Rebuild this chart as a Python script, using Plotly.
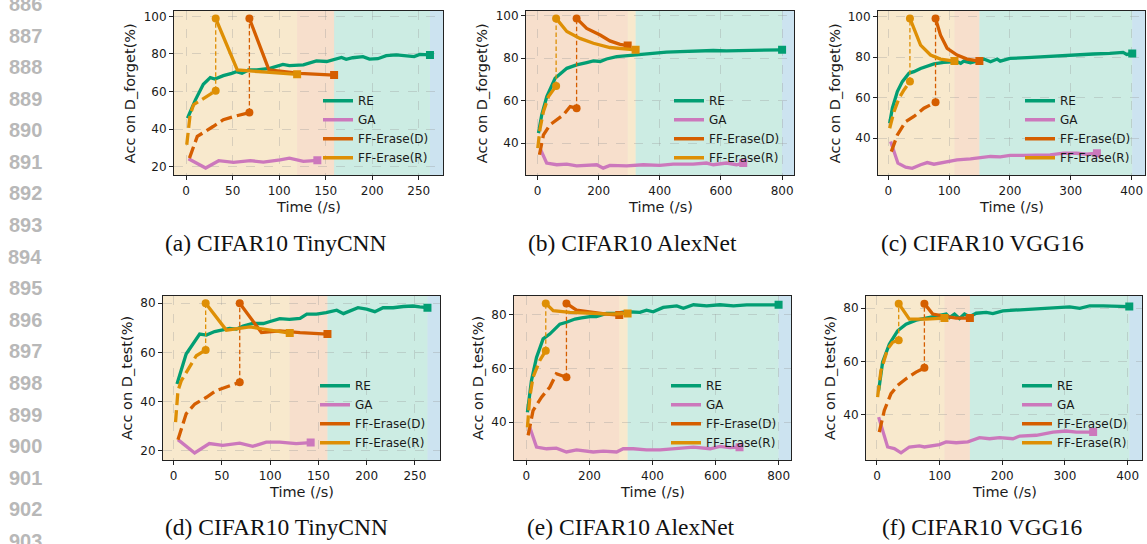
import plotly.graph_objects as go

W, H = 1147, 544
C_RE, C_GA, C_D, C_R, C_X = "#029e73", "#cc78bc", "#d55e00", "#de8f05", "#0173b2"
FONT = "DejaVu Sans"

# ---------------- data: (a) CIFAR10 TinyCNN, D_forget ----------------
a_re_t = [1.5, 10, 18.5, 26, 31, 40, 49, 54, 60, 67, 76, 90, 104, 111, 126, 133, 140, 151, 158, 167, 172, 179, 190, 197, 206, 215, 226, 236, 245, 251, 262]
a_re_acc = [45.8, 55.6, 63.9, 67.4, 66.7, 68.5, 69.7, 70.6, 69.7, 71.5, 71.5, 72.4, 74.5, 73.8, 74.2, 75.4, 76.3, 76.0, 76.8, 78.2, 77.2, 78.0, 78.6, 77.3, 77.5, 79.1, 79.5, 78.9, 78.6, 79.8, 79.5]
a_ga_t = [2.5, 21, 35, 51, 69, 83, 101, 111, 126, 141]
a_ga_acc = [24.2, 19.3, 23.2, 22.3, 23.2, 22.5, 23.7, 24.6, 22.8, 23.4]
a_dpre_t = [3.6, 12, 29, 40, 51, 68]
a_dpre_acc = [24.6, 36.1, 41.4, 45.0, 46.7, 48.8]
a_dpost_t = [68, 89, 122, 159]
a_dpost_acc = [98.9, 71.5, 69.7, 68.8]
a_rpre_t = [0.7, 4.3, 8, 18.6, 31.8]
a_rpre_acc = [31.7, 47.6, 53.0, 56.5, 60.4]
a_rpost_t = [31.8, 55, 86, 119.3]
a_rpost_acc = [98.9, 71.5, 70.3, 69.2]

# ---------------- data: (b) CIFAR10 AlexNet, D_forget ----------------
b_re_t = [3.3, 14, 30.5, 57.7, 96, 128, 161, 183, 205, 226, 259, 292, 335, 379, 422, 466, 509, 575, 618, 673, 727, 800]
b_re_acc = [44.7, 53.3, 61.9, 70.5, 75.2, 76.8, 77.9, 78.7, 78.4, 79.6, 80.7, 81.2, 81.5, 82.3, 82.8, 83.1, 83.4, 83.6, 83.4, 83.6, 83.7, 83.9]
b_ga_t = [10, 30, 63, 96, 128, 172, 194, 215, 237, 292, 346, 400, 444, 509, 553, 575, 618, 651, 673]
b_ga_acc = [37.0, 30.6, 29.8, 30.1, 29.3, 29.8, 29.8, 28.2, 29.5, 29.3, 29.8, 29.5, 30.1, 30.1, 30.6, 29.8, 30.6, 29.8, 30.6]
b_dpre_t = [6.5, 19.6, 41, 63, 85, 107, 128]
b_dpre_acc = [34.5, 43.9, 48.6, 51.0, 53.3, 57.2, 56.4]
b_dpost_t = [128, 161, 205, 237, 270, 295]
b_dpost_acc = [98.7, 94.0, 90.9, 88.1, 86.5, 85.9]
b_rpre_t = [1, 8.7, 19.6, 36, 61]
b_rpre_acc = [37.6, 47.0, 54.9, 61.9, 66.9]
b_rpost_t = [61, 96, 139, 183, 237, 292, 321]
b_rpost_acc = [98.7, 92.5, 89.3, 87.0, 85.0, 84.3, 83.9]

# ---------------- data: (c) CIFAR10 VGG16, D_forget ----------------
c_re_t = [2.2, 6.6, 14.8, 23, 34, 42, 53, 64, 75, 91, 113, 119, 124, 135, 146, 157, 168, 179, 184, 200, 228, 255, 282, 310, 337, 364, 386, 392, 401]
c_re_acc = [47.4, 54.8, 63.0, 67.9, 72.0, 72.8, 74.4, 75.7, 76.6, 77.4, 77.7, 76.9, 78.0, 77.2, 78.0, 79.0, 77.7, 79.0, 78.0, 79.3, 79.7, 80.2, 80.7, 81.0, 81.5, 81.8, 82.3, 81.3, 81.8]
c_ga_t = [3.8, 15.8, 28.4, 39.3, 53, 64, 75, 91, 113, 135, 151, 168, 184, 200, 222, 244, 266, 288, 310, 326, 343]
c_ga_acc = [38.4, 27.7, 25.7, 25.2, 26.9, 28.0, 27.2, 28.2, 29.3, 29.8, 30.2, 31.0, 30.8, 31.5, 31.5, 31.8, 31.8, 32.6, 32.6, 32.1, 32.6]
c_dpre_t = [4.9, 14.8, 28.4, 42, 58.5, 77.6]
c_dpre_acc = [33.4, 41.6, 48.2, 50.7, 54.8, 57.7]
c_dpost_t = [77.6, 85.8, 96.7, 113, 129.5, 149.7]
c_dpost_acc = [99.0, 90.8, 84.3, 81.0, 79.0, 78.0]
c_rpre_t = [2.2, 9.3, 17.5, 25.7, 35.5]
c_rpre_acc = [44.9, 53.1, 59.7, 63.8, 67.9]
c_rpost_t = [35.5, 53, 69.4, 85.8, 108.7]
c_rpost_acc = [99.0, 85.9, 81.0, 79.0, 78.0]

# ---------------- data: (d) CIFAR10 TinyCNN, D_test ----------------
d_re_t = [3.5, 13, 27, 34, 42.5, 51, 58, 65, 72, 82, 93, 100, 110, 120, 131, 138, 148, 158, 169, 176, 183, 191, 200, 208.5, 217, 227.5, 238, 248, 255, 263]
d_re_acc = [47.2, 59.4, 67.5, 67.1, 68.5, 69.1, 69.8, 69.5, 70.8, 71.8, 71.8, 72.6, 73.8, 73.5, 73.9, 75.6, 75.6, 76.2, 77.2, 75.8, 76.9, 78.2, 77.6, 76.6, 78.2, 78.2, 78.7, 78.9, 78.5, 78.2]
d_ga_t = [4.5, 21.8, 37, 51, 68.5, 82, 96, 110, 127, 142]
d_ga_acc = [24.6, 19.2, 23.0, 22.3, 23.2, 21.9, 23.6, 23.6, 23.0, 23.4]
d_dpre_t = [4.5, 13, 22, 34, 44, 58, 68.5]
d_dpre_acc = [24.6, 35.1, 39.1, 41.8, 44.5, 46.6, 47.9]
d_dpost_t = [68.5, 91, 110, 131, 159.4]
d_dpost_acc = [80.0, 68.1, 68.8, 68.1, 67.5]
d_rpre_t = [2, 4.5, 8, 23.5, 33.2]
d_rpre_acc = [31.7, 44.5, 48.6, 58.7, 61.0]
d_rpost_t = [33.2, 54.6, 79, 96, 120.3]
d_rpost_acc = [80.0, 69.1, 70.4, 69.5, 67.9]

# ---------------- data: (e) CIFAR10 AlexNet, D_test ----------------
e_re_t = [3.2, 16, 32, 53, 74, 106, 127, 154, 175, 201, 222, 254, 286, 318, 360, 381, 402, 434, 477, 498, 530, 572, 614, 657, 699, 741, 800]
e_re_acc = [43.7, 55.5, 64.1, 71.0, 72.8, 76.5, 77.2, 78.4, 78.8, 79.3, 79.3, 80.5, 80.6, 81.1, 80.9, 81.7, 81.1, 82.7, 83.3, 82.4, 83.7, 83.3, 83.7, 83.3, 83.7, 83.7, 83.7]
e_ga_t = [10.6, 32, 64, 95, 127, 159, 212, 244, 286, 307, 339, 381, 424, 477, 530, 583, 614, 646, 676]
e_ga_acc = [38.1, 30.7, 30.1, 30.3, 28.9, 29.7, 28.9, 29.2, 28.9, 30.1, 30.1, 29.7, 29.7, 30.1, 30.7, 30.1, 31.0, 30.5, 30.7]
e_dpre_t = [5.3, 21, 48, 74, 95, 127]
e_dpre_acc = [35.1, 44.3, 49.3, 53.0, 58.0, 56.7]
e_dpost_t = [127, 159, 212, 254, 294.5]
e_dpost_acc = [84.2, 81.7, 80.9, 80.2, 79.9]
e_rpre_t = [3.2, 10.6, 21, 42, 61.4]
e_rpre_acc = [38.1, 49.3, 56.7, 62.9, 66.6]
e_rpost_t = [61.4, 85, 138, 212, 265, 321]
e_rpost_acc = [84.2, 81.5, 80.9, 80.5, 80.2, 80.5]

# ---------------- data: (f) CIFAR10 VGG16, D_test ----------------
f_re_t = [2.7, 9, 19.7, 33, 46.4, 62.4, 78.4, 94.4, 110.4, 115.7, 123.7, 131.7, 139.7, 147.7, 158.4, 174.4, 185, 201, 222.4, 243.7, 265, 286.4, 307.7, 323.7, 339.7, 361, 382.4, 402.7]
f_re_acc = [49.1, 59.7, 66.5, 71.5, 74.0, 75.5, 76.3, 77.1, 77.8, 76.5, 77.8, 76.1, 77.8, 76.8, 78.1, 78.4, 78.0, 79.0, 79.3, 79.3, 79.6, 80.2, 80.5, 79.9, 80.9, 80.9, 80.6, 80.6]
f_ga_t = [2.7, 9, 17, 27.7, 38.4, 51.7, 67.7, 75.7, 89, 99.7, 110.4, 126.4, 145, 163.7, 179.7, 195.7, 217, 228, 254.4, 281, 302, 318.4, 345]
f_ga_acc = [39.1, 34.1, 27.9, 27.3, 25.7, 27.9, 28.3, 27.9, 28.5, 28.8, 29.8, 29.5, 29.8, 31.4, 31.0, 31.4, 31.0, 32.0, 32.3, 33.5, 33.9, 33.5, 33.5]
f_dpre_t = [3.7, 11.7, 22.4, 33, 46.4, 62.4, 75.7]
f_dpre_acc = [33.5, 41.6, 47.9, 51.0, 53.5, 56.0, 57.6]
f_dpost_t = [75.7, 89, 105, 126.4, 148.3]
f_dpost_acc = [81.7, 77.8, 77.1, 76.3, 76.3]
f_rpre_t = [1, 6.4, 17, 25, 34.7]
f_rpre_acc = [46.6, 56.6, 64.7, 67.2, 68.0]
f_rpost_t = [34.7, 51.7, 78.4, 107.7]
f_rpost_acc = [81.7, 75.9, 75.9, 76.3]

# ---------------- labels / ticks ----------------
series_names = ["RE", "GA", "FF-Erase(D)", "FF-Erase(R)"]
captions = ["(a) CIFAR10 TinyCNN", "(b) CIFAR10 AlexNet", "(c) CIFAR10 VGG16",
            "(d) CIFAR10 TinyCNN", "(e) CIFAR10 AlexNet", "(f) CIFAR10 VGG16"]
ylabel_forget = "Acc on D_forget(%)"
ylabel_test = "Acc on D_test(%)"
xlabel = "Time (/s)"
xticks_tiny = [0, 50, 100, 150, 200, 250]
xticks_alex = [0, 200, 400, 600, 800]
xticks_vgg = [0, 100, 200, 300, 400]
yticks_a = [20, 40, 60, 80, 100]
yticks_bc = [40, 60, 80, 100]
yticks_d = [20, 40, 60, 80]
yticks_ef = [40, 60, 80]
line_numbers = ["886", "887", "888", "889", "890", "891", "892", "893", "894",
                "895", "896", "897", "898", "899", "900", "901", "902", "903"]

panels = [
    dict(re=(a_re_t, a_re_acc), ga=(a_ga_t, a_ga_acc), dpre=(a_dpre_t, a_dpre_acc), dpost=(a_dpost_t, a_dpost_acc),
         rpre=(a_rpre_t, a_rpre_acc), rpost=(a_rpost_t, a_rpost_acc), box=(174, 443, 9, 174),
         xr=[-13, 276], yr=[15.4, 102.9], xt=xticks_tiny, yt=yticks_a, ylab=ylabel_forget, ystand=44),
    dict(re=(b_re_t, b_re_acc), ga=(b_ga_t, b_ga_acc), dpre=(b_dpre_t, b_dpre_acc), dpost=(b_dpost_t, b_dpost_acc),
         rpre=(b_rpre_t, b_rpre_acc), rpost=(b_rpost_t, b_rpost_acc), box=(526, 794, 9, 174),
         xr=[-37.5, 839], yr=[24.8, 102.2], xt=xticks_alex, yt=yticks_bc, ylab=ylabel_forget, ystand=44),
    dict(re=(c_re_t, c_re_acc), ga=(c_ga_t, c_ga_acc), dpre=(c_dpre_t, c_dpre_acc), dpost=(c_dpost_t, c_dpost_acc),
         rpre=(c_rpre_t, c_rpre_acc), rpost=(c_rpost_t, c_rpost_acc), box=(878, 1145, 9, 174),
         xr=[-17, 422], yr=[21.7, 102.7], xt=xticks_vgg, yt=yticks_bc, ylab=ylabel_forget, ystand=43),
    dict(re=(d_re_t, d_re_acc), ga=(d_ga_t, d_ga_acc), dpre=(d_dpre_t, d_dpre_acc), dpost=(d_dpost_t, d_dpost_acc),
         rpre=(d_rpre_t, d_rpre_acc), rpost=(d_rpost_t, d_rpost_acc), box=(163, 440, 295, 460),
         xr=[-11, 276], yr=[16.2, 83], xt=xticks_tiny, yt=yticks_d, ylab=ylabel_test, ystand=36),
    dict(re=(e_re_t, e_re_acc), ga=(e_ga_t, e_ga_acc), dpre=(e_dpre_t, e_dpre_acc), dpost=(e_dpost_t, e_dpost_acc),
         rpre=(e_rpre_t, e_rpre_acc), rpost=(e_rpost_t, e_rpost_acc), box=(514, 791, 295, 460),
         xr=[-39.4, 839.4], yr=[25.8, 87], xt=xticks_alex, yt=yticks_ef, ylab=ylabel_test, ystand=36),
    dict(re=(f_re_t, f_re_acc), ga=(f_ga_t, f_ga_acc), dpre=(f_dpre_t, f_dpre_acc), dpost=(f_dpost_t, f_dpost_acc),
         rpre=(f_rpre_t, f_rpre_acc), rpost=(f_rpost_t, f_rpost_acc), box=(866, 1142, 295, 460),
         xr=[-17.5, 423], yr=[22.9, 84.6], xt=xticks_vgg, yt=yticks_ef, ylab=ylabel_test, ystand=36),
]
caption_pos = [(276, 242), (632, 242), (982, 242), (276, 527), (631, 527), (982, 527)]

fig = go.Figure()
layout = dict(width=W, height=H, margin=dict(l=0, r=0, t=0, b=0),
              paper_bgcolor="white", plot_bgcolor="white", showlegend=True,
              font=dict(family=FONT, size=12, color="#1a1a1a"))
shapes, annots = [], []

LW = 3.3
DASH = "12px,5px"
THIN = "4.5px,2.5px"


def line(xa, ya, x, y, color, width, dash="solid"):
    fig.add_trace(go.Scatter(x=x, y=y, mode="lines", xaxis=xa, yaxis=ya, showlegend=False, hoverinfo="skip",
                             line=dict(color=color, width=width, dash=dash)))


def mark(xa, ya, x, y, color, symbol, size=8):
    fig.add_trace(go.Scatter(x=x, y=y, mode="markers", xaxis=xa, yaxis=ya, showlegend=False, hoverinfo="skip",
                             marker=dict(color=color, symbol=symbol, size=size, line=dict(width=0))))


for i, p in enumerate(panels):
    s = "" if i == 0 else str(i + 1)
    xa, ya = "x" + s, "y" + s
    x0, x1, y0, y1 = p["box"]
    common = dict(showline=True, mirror=True, linecolor="#222", linewidth=1,
                  ticks="outside", ticklen=4, tickwidth=1, tickcolor="#222",
                  showgrid=True, gridcolor="rgba(150,150,150,0.4)", griddash="dash", gridwidth=0.8,
                  zeroline=False, tickfont=dict(size=12, family=FONT, color="#1a1a1a"))
    layout["xaxis" + s] = dict(domain=[x0 / W, x1 / W], anchor=ya, range=p["xr"], tickvals=p["xt"], **common)
    layout["yaxis" + s] = dict(domain=[1 - y1 / H, 1 - y0 / H], anchor=xa, range=p["yr"], tickvals=p["yt"], **common)

    # background spans, boundaries = end times of each method
    ends = sorted([(p["rpost"][0][-1], C_R), (p["dpost"][0][-1], C_D)])
    ends.append((p["re"][0][-1], C_RE))
    start = p["xr"][0]
    for e, col in ends:
        shapes.append(dict(type="rect", xref=xa, yref=ya + " domain", x0=start, x1=e, y0=0, y1=1,
                           fillcolor=col, opacity=0.2, line=dict(width=0), layer="below"))
        start = e
    shapes.append(dict(type="rect", xref=xa, yref=ya + " domain", x0=start, x1=p["xr"][1], y0=0, y1=1,
                       fillcolor=C_X, opacity=0.2, line=dict(width=0), layer="below"))

    # RE
    rx, ry = p["re"]
    line(xa, ya, rx, ry, C_RE, LW)
    mark(xa, ya, [rx[-1]], [ry[-1]], C_RE, "square")
    # GA
    gx, gy = p["ga"]
    line(xa, ya, gx, gy, C_GA, LW)
    mark(xa, ya, [gx[-1]], [gy[-1]], C_GA, "square")
    # FF-Erase(D) and FF-Erase(R)
    for key, col in (("d", C_D), ("r", C_R)):
        px_, py_ = p[key + "pre"]
        qx, qy = p[key + "post"]
        line(xa, ya, px_, py_, col, LW, DASH)
        line(xa, ya, [px_[-1], qx[0]], [py_[-1], qy[0]], col, 1.3, THIN)
        line(xa, ya, qx, qy, col, LW)
        mark(xa, ya, [px_[-1], qx[0]], [py_[-1], qy[0]], col, "circle", 8)
        mark(xa, ya, [qx[-1]], [qy[-1]], col, "square")

    # legend
    lg = "legend" + s
    for name, col in zip(series_names, (C_RE, C_GA, C_D, C_R)):
        fig.add_trace(go.Scatter(x=[None], y=[None], mode="lines", name=name, legend=lg, xaxis=xa, yaxis=ya,
                                 line=dict(color=col, width=3.5)))
    layout[lg] = dict(x=(x1 - 125) / W, xanchor="left", y=1 - (y1 - 89.5) / H, yanchor="top",
                      bgcolor="rgba(0,0,0,0)", borderwidth=0, tracegroupgap=0,
                      font=dict(family=FONT, size=12, color="#1a1a1a"))

    # axis titles
    annots.append(dict(text=xlabel, xref="paper", yref="paper", x=(x0 + x1) / 2 / W, y=1 - (y1 + 32) / H,
                       showarrow=False, xanchor="center", yanchor="middle",
                       font=dict(family=FONT, size=14.5, color="#1a1a1a")))
    annots.append(dict(text=p["ylab"], xref="paper", yref="paper", x=(x0 - p["ystand"]) / W,
                       y=1 - (y0 + y1) / 2 / H, textangle=-90, showarrow=False,
                       xanchor="center", yanchor="middle", font=dict(family=FONT, size=14.5, color="#1a1a1a")))

# captions
for cap, (cx, cy) in zip(captions, caption_pos):
    annots.append(dict(text=cap, xref="paper", yref="paper", x=cx / W, y=1 - cy / H, showarrow=False,
                       xanchor="center", yanchor="middle",
                       font=dict(family="Liberation Serif", size=23.5, color="#111")))

# page line numbers
for k, ln in enumerate(line_numbers):
    annots.append(dict(text="<b>" + ln + "</b>", xref="paper", yref="paper", x=44 / W, y=1 - (2 + 31.7 * k) / H,
                       showarrow=False, xanchor="right", yanchor="middle",
                       font=dict(family="Liberation Sans", size=20, color="#b8b8b8")))

layout["shapes"] = shapes
layout["annotations"] = annots
fig.update_layout(**layout)
fig.write_html("out.html", config={"displayModeBar": False, "staticPlot": True},
               post_script="document.body.style.margin='0';document.body.style.padding='0';"
                           "document.body.style.overflow='hidden';")
